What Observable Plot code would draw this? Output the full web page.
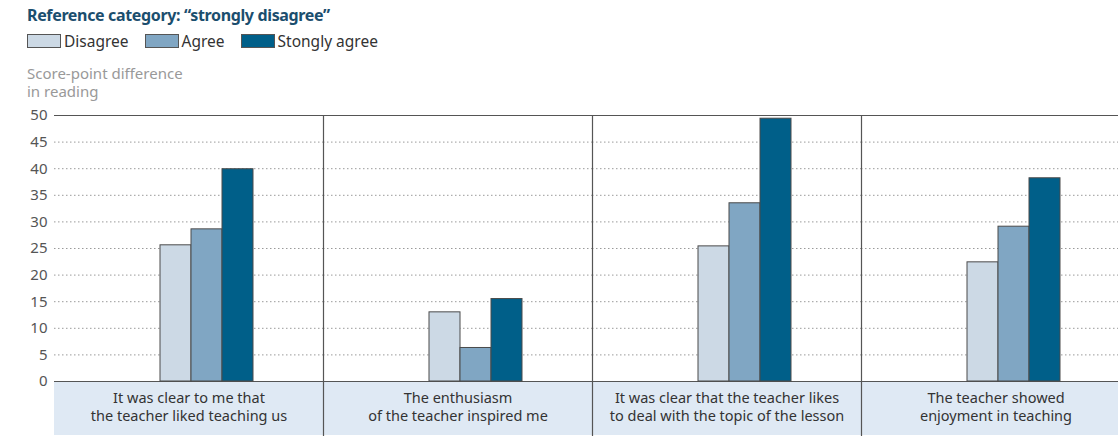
<!DOCTYPE html>
<html>
<head>
<meta charset="utf-8">
<script src="https://cdn.jsdelivr.net/npm/d3@7"></script>
<script src="https://cdn.jsdelivr.net/npm/@observablehq/plot@0.6"></script>
<style>
  html, body { margin: 0; padding: 0; background: #fff; overflow: hidden; width: 1118px; height: 443px; }
  body { position: relative; font-family: "Noto Sans", "Open Sans", sans-serif; }
  #title { position: absolute; left: 27px; top: 4px; font-size: 16px; font-weight: bold; color: #1b4e6e; letter-spacing: -0.35px; white-space: nowrap; }
  #legend { position: absolute; left: 27px; top: 30px; font-size: 15.5px; color: #333; white-space: nowrap; display: flex; align-items: center; }
  .item { display: flex; align-items: center; margin-right: 16px; }
  .sw { width: 32px; height: 12px; border: 1px solid #555; margin-right: 3px; box-sizing: content-box; }
  #ylabel { position: absolute; left: 27px; top: 64px; font-size: 15px; line-height: 18px; color: #999; }
  #chart { position: absolute; left: 0; top: 105px; width: 1130px; }
</style>
</head>
<body>
<div id="title"></div>
<div id="legend"></div>
<div id="ylabel"></div>
<div id="chart"></div>
<script>
const titleText = "Reference category: \u201cstrongly disagree\u201d";
const yLabelLines = ["Score-point difference", "in reading"];
const categories = [
  "It was clear to me that\nthe teacher liked teaching us",
  "The enthusiasm\nof the teacher inspired me",
  "It was clear that the teacher likes\nto deal with the topic of the lesson",
  "The teacher showed\nenjoyment in teaching"
];
const series = ["Disagree", "Agree", "Stongly agree"];
const colors = ["#ccd9e5", "#80a6c3", "#005f89"];
const disagree = [25.6, 13.0, 25.4, 22.4];
const agree = [28.6, 6.3, 33.5, 29.1];
const stronglyAgree = [39.9, 15.5, 49.4, 38.2];
const yTicks = [0, 5, 10, 15, 20, 25, 30, 35, 40, 45, 50];

const seriesValues = [disagree, agree, stronglyAgree];
const rows = [];
categories.forEach((c, i) => series.forEach((s, j) => rows.push({category: c, series: s, value: seriesValues[j][i]})));

document.getElementById("title").textContent = titleText;
document.getElementById("ylabel").innerHTML = yLabelLines.join("<br>");
const legend = document.getElementById("legend");
series.forEach((s, j) => {
  const it = document.createElement("div");
  it.className = "item";
  const sw = document.createElement("div");
  sw.className = "sw";
  sw.style.background = colors[j];
  const t = document.createElement("span");
  t.textContent = s;
  it.appendChild(sw); it.appendChild(t);
  legend.appendChild(it);
});

const yMin = -10.15;
const chart = Plot.plot({
  width: 1130,
  height: 332,
  marginTop: 10,
  marginBottom: 2,
  marginLeft: 54,
  marginRight: 0,
  style: {fontFamily: "Noto Sans, Open Sans, sans-serif", overflow: "visible", background: "transparent", maxWidth: "none"},
  fx: {domain: categories, padding: 0, axis: null},
  x: {domain: series, paddingInner: 0, paddingOuter: 2.77, align: 0.6, axis: null},
  y: {domain: [yMin, 50], axis: null},
  color: {domain: series, range: colors},
  marks: [
    Plot.rect(categories, {fx: d => d, y1: yMin, y2: 0, fill: "#dfe9f4"}),
    Plot.ruleY(yTicks.filter(t => t > 0 && t < 50), {stroke: "#9a9a9a", strokeWidth: 1, strokeDasharray: "1.5,2.5"}),
    Plot.ruleY([0, 50], {stroke: "#555", strokeWidth: 1.2}),
    ...categories.slice(1).map(c => Plot.frame({anchor: "left", fx: () => c, stroke: "#555", strokeWidth: 1.2})),
    Plot.barY(rows, {fx: "category", x: "series", y: "value", fill: "series", stroke: "#4a4a4a", strokeWidth: 1}),
    Plot.text(categories, {fx: d => d, text: d => d, y: -4.7, fontSize: 14.5, lineHeight: 1.24, fill: "#333"}),
    Plot.axisY({ticks: yTicks, tickSize: 0, tickPadding: 7, fontSize: 15, color: "#555", label: null, tickFormat: d => String(d)})
  ]
});
document.getElementById("chart").appendChild(chart);
</script>
</body>
</html>
